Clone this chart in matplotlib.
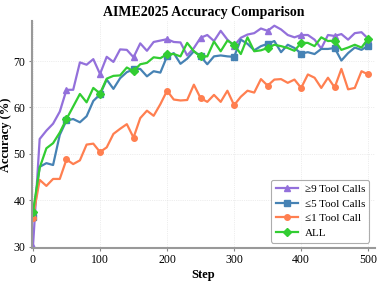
import matplotlib
matplotlib.use("Agg")
import matplotlib.pyplot as plt

plt.rcParams['font.family'] = ['Liberation Serif', 'DejaVu Serif']

steps = list(range(0, 501, 10))

# accuracy (%)
acc_ge9 = [30.0, 53.2, 55.0, 56.5, 59.1, 63.8, 63.8, 69.7, 69.2, 70.4,
           67.2, 70.9, 69.8, 72.5, 72.4, 70.8, 73.8, 72.2, 74.1, 74.4,
           74.7, 74.1, 74.0, 71.2, 72.8, 75.0, 75.6, 74.3, 76.5, 74.6,
           73.3, 75.0, 75.7, 76.0, 77.0, 76.5, 77.6, 76.8, 75.6, 75.1,
           75.6, 75.6, 74.6, 72.7, 75.6, 75.4, 75.8, 74.6, 76.0, 76.2,
           74.8]
acc_le5 = [36.5, 47.2, 48.0, 47.6, 54.1, 57.2, 57.5, 56.8, 58.1, 61.4,
           62.8, 66.0, 64.0, 66.3, 67.6, 68.2, 68.3, 66.7, 67.8, 67.5,
           71.0, 71.7, 69.4, 70.5, 72.1, 71.0, 69.3, 71.0, 71.2, 71.0,
           70.9, 74.6, 73.7, 72.3, 73.2, 73.7, 74.3, 71.9, 73.5, 72.8,
           71.6, 71.9, 71.5, 72.6, 72.6, 72.8, 70.1, 71.7, 72.9, 72.4,
           73.3]
acc_le1 = [36.2, 44.4, 43.1, 44.6, 44.6, 48.8, 47.8, 48.6, 52.0, 52.2,
           50.4, 51.4, 54.3, 55.4, 56.4, 53.5, 57.7, 59.3, 58.2, 60.7,
           63.6, 61.7, 61.5, 61.6, 64.9, 62.0, 61.2, 62.7, 61.2, 63.6,
           60.5, 62.3, 63.6, 63.2, 66.1, 64.7, 66.0, 66.1, 65.3, 66.0,
           64.2, 67.1, 66.4, 64.2, 66.4, 64.3, 68.3, 63.9, 64.2, 67.8,
           67.1]
acc_all = [37.5, 47.0, 51.2, 52.3, 54.6, 57.5, 60.2, 62.9, 61.1, 64.2,
           63.0, 66.2, 66.8, 66.9, 68.6, 67.8, 69.3, 69.6, 70.8, 70.6,
           71.5, 71.5, 71.0, 73.9, 72.1, 71.0, 71.0, 74.2, 72.1, 74.4,
           73.5, 71.5, 75.1, 72.1, 72.3, 72.8, 73.5, 73.2, 72.8, 72.2,
           73.9, 73.9, 73.2, 75.1, 74.3, 74.4, 72.4, 72.9, 73.5, 72.9,
           74.8]

series = [
    (acc_ge9, "\u22659 Tool Calls", "#9370DB", "^"),
    (acc_le5, "\u22645 Tool Calls", "#4682B4", "s"),
    (acc_le1, "\u22641 Tool Call", "#FF7F50", "o"),
    (acc_all, "ALL", "#32CD32", "D"),
]

fig = plt.figure(figsize=(3.81, 2.81), dpi=100)
ax = fig.add_axes([0.083, 0.117, 0.901, 0.808])

for vals, label, color, marker in series:
    ax.plot(steps, vals, color=color, label=label, linewidth=1.6,
            marker=marker, markersize=4, markevery=5)

ax.set_xlim(-2, 510)
ax.set_ylim(29.7, 78.6)
ax.set_xticks([0, 100, 200, 300, 400, 500])
ax.set_yticks([30, 40, 50, 60, 70])

ax.set_title("AIME2025 Accuracy Comparison", fontsize=10, fontweight="bold", pad=4)
ax.set_xlabel("Step", fontsize=9, fontweight="bold", labelpad=2)
ax.set_ylabel("Accuracy (%)", fontsize=9, fontweight="bold", labelpad=1)
ax.tick_params(labelsize=8.5, length=2.5, color="#888888", pad=2)

ax.grid(True, linestyle=":", linewidth=0.5, color="#dddddd")
for side in ["top", "right"]:
    ax.spines[side].set_visible(False)
for side in ["left", "bottom"]:
    ax.spines[side].set_color("#999999")
    ax.spines[side].set_linewidth(1.5)

leg = ax.legend(loc="lower right", fontsize=8, frameon=True, fancybox=True,
                edgecolor="#999999", handlelength=2.0, borderpad=0.4,
                labelspacing=0.45, handletextpad=0.6)
leg.get_frame().set_linewidth(0.8)

fig.savefig("out.png", dpi=100)
